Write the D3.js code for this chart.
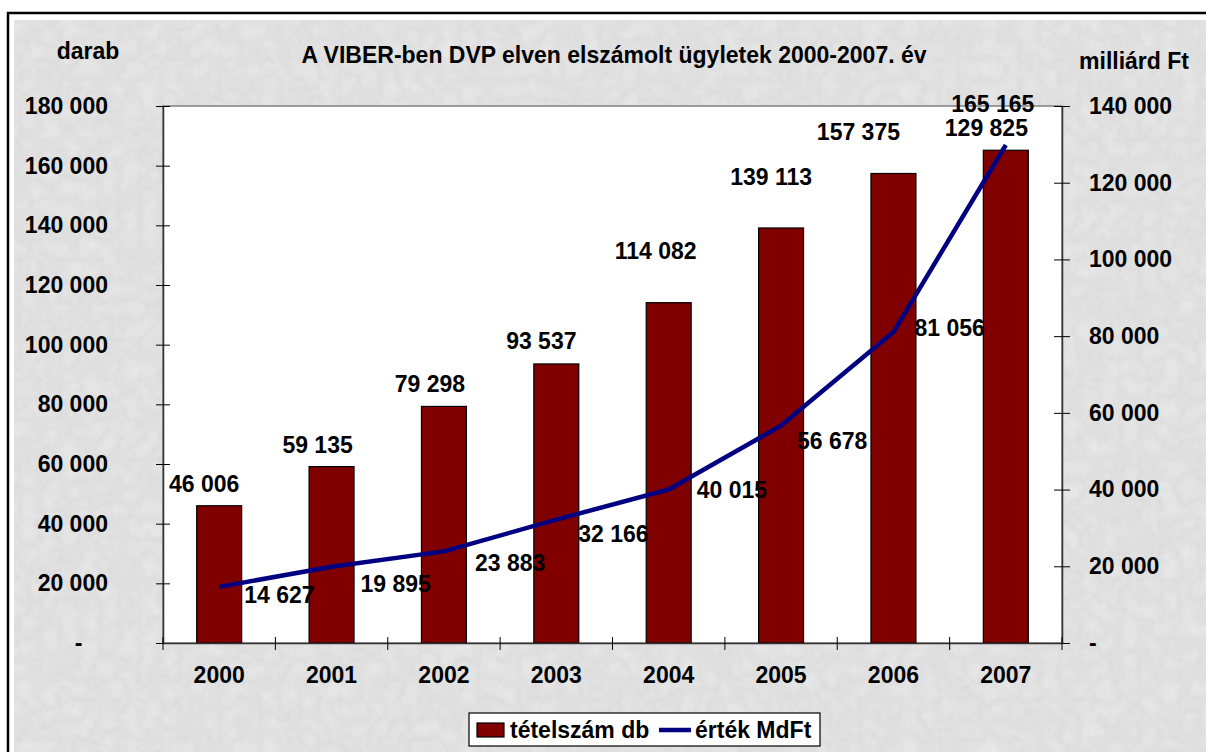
<!DOCTYPE html>
<html>
<head>
<meta charset="utf-8">
<script src="https://cdn.jsdelivr.net/npm/d3@7"></script>
<style>
	html, body { margin: 0; background: #fff; overflow: hidden; }
	svg { display: block; }
	svg text { font-family: "Liberation Sans", Arial, sans-serif; font-weight: bold; fill: #000; }
</style>
</head>
<body>
<div id="chart"></div>
<script>
const years = ["2000", "2001", "2002", "2003", "2004", "2005", "2006", "2007"];
const tetelszam = [46006, 59135, 79298, 93537, 114082, 139113, 157375, 165165];
const ertek = [14627, 19895, 23883, 32166, 40015, 56678, 81056, 129825];
const leftTicks = [0, 20000, 40000, 60000, 80000, 100000, 120000, 140000, 160000, 180000];
const rightTicks = [0, 20000, 40000, 60000, 80000, 100000, 120000, 140000];

// label nudges, as they were dragged in the original sheet
const barLabelNudge = [[-15, -14], [-14, -14], [-14, -14], [-15, -15], [-13, -44], [-10, -43], [-35, -33], [-13, -38]];
const lineLabelNudge = [[25, 16], [29, 25], [31, 20], [22, 22], [28, 8], [16, 23], [21, 4], [-61, -9]];

const W = 1206, H = 752;
const plot = { left: 163, top: 106, right: 1062, bottom: 643 };
const fs = 23;

const nf = d => d === 0 ? "-" : d3.format(",")(d).replace(/,/g, " ");

const svg = d3.select('#chart').append('svg')
	.attr('width', W)
	.attr('height', H);

const defs = svg.append('defs');

function noise(id, type, freq, oct, seed, matrix) {
	const f = defs.append('filter')
		.attr('id', id)
		.attr('filterUnits', 'userSpaceOnUse')
		.attr('x', 0).attr('y', 0).attr('width', W + 40).attr('height', H + 40);
	f.append('feTurbulence')
		.attr('type', type)
		.attr('baseFrequency', freq)
		.attr('numOctaves', oct)
		.attr('seed', seed);
	f.append('feColorMatrix')
		.attr('type', 'matrix')
		.attr('values', matrix);
	f.append('feComposite')
		.attr('in2', 'SourceGraphic')
		.attr('operator', 'in');
}

noise('veins', 'turbulence', 0.05, 4, 3, "0 0 0 0 1  0 0 0 0 1  0 0 0 0 1  1.3 0 0 0 -0.1");
noise('grain', 'fractalNoise', 0.14, 3, 9, "0 0 0 0 0.6  0 0 0 0 0.6  0 0 0 0 0.6  -1.2 0 0 0 0.7");

// paper + marble background
const bg = svg.append('g');
bg.append('rect')
	.attr('x', 14).attr('y', 20)
	.attr('width', W + 20).attr('height', H + 20)
	.attr('fill', '#dedede');
bg.append('rect')
	.attr('x', 14).attr('y', 20)
	.attr('width', W + 20).attr('height', H + 20)
	.attr('fill', '#fff')
	.attr('filter', 'url(#grain)')
	.attr('opacity', 0.3);
bg.append('rect')
	.attr('x', 14).attr('y', 20)
	.attr('width', W + 20).attr('height', H + 20)
	.attr('fill', '#fff')
	.attr('filter', 'url(#veins)')
	.attr('opacity', 0.3);

svg.append('path')
	.attr('d', `M8,${H + 5} V13 H${W + 5}`)
	.attr('fill', 'none')
	.attr('stroke', '#000')
	.attr('stroke-width', 2.5);

const x = d3.scaleBand()
	.domain(years)
	.range([plot.left, plot.right])
	.paddingInner(0.6)
	.paddingOuter(0.3);

const yL = d3.scaleLinear().domain([0, 180000]).range([plot.bottom, plot.top]);
const yR = d3.scaleLinear().domain([0, 140000]).range([plot.bottom, plot.top]);

svg.append('rect')
	.attr('x', plot.left).attr('y', plot.top)
	.attr('width', plot.right - plot.left)
	.attr('height', plot.bottom - plot.top)
	.attr('fill', '#fff')
	.attr('stroke', '#808080')
	.attr('stroke-width', 1.5);

// bars
svg.append('g')
	.selectAll('rect')
	.data(tetelszam)
	.enter().append('rect')
	.attr('x', (d, i) => x(years[i]))
	.attr('y', d => yL(d))
	.attr('width', x.bandwidth())
	.attr('height', d => yL(0) - yL(d))
	.attr('fill', '#800000')
	.attr('stroke', '#000')
	.attr('stroke-width', 1.2);

// axes
const axL = svg.append('g')
	.attr('transform', `translate(${plot.left},0)`)
	.call(d3.axisLeft(yL).tickValues(leftTicks).tickFormat(nf).tickSizeOuter(0));
axL.selectAll('.tick line').attr('x1', 7).attr('x2', -7).attr('stroke', '#000');
axL.selectAll('.tick text')
	.attr('x', -55)
	.style('font-size', fs + 'px')
	.text(d => d === 0 ? "-\u2007\u2007" : nf(d));

const axR = svg.append('g')
	.attr('transform', `translate(${plot.right},0)`)
	.call(d3.axisRight(yR).tickValues(rightTicks).tickFormat(nf).tickSizeOuter(0));
axR.selectAll('.tick line').attr('x1', -8).attr('x2', 8).attr('stroke', '#000');
axR.selectAll('.tick text')
	.attr('x', 27)
	.style('font-size', fs + 'px');

const axB = svg.append('g')
	.attr('transform', `translate(0,${plot.bottom})`)
	.call(d3.axisBottom(x).tickSize(0).tickPadding(24).tickSizeOuter(0));
axB.selectAll('.tick text').style('font-size', fs + 'px');

const bounds = d3.range(years.length + 1).map(i => plot.left + i * x.step());
axB.selectAll('line.bound')
	.data(bounds)
	.enter().append('line')
	.attr('class', 'bound')
	.attr('x1', d => d).attr('x2', d => d)
	.attr('y1', -6).attr('y2', 7)
	.attr('stroke', '#000');

svg.selectAll('.domain').attr('stroke', '#333').attr('stroke-width', 1.5);

// line
const cx = i => x(years[i]) + x.bandwidth() / 2;
const line = d3.line()
	.x((d, i) => cx(i))
	.y(d => yR(d));

svg.append('path')
	.datum(ertek)
	.attr('d', line)
	.attr('fill', 'none')
	.attr('stroke', '#000080')
	.attr('stroke-width', 4.5)
	.attr('stroke-linejoin', 'round');

// data labels
svg.append('g')
	.selectAll('text')
	.data(tetelszam)
	.enter().append('text')
	.attr('x', (d, i) => cx(i) + barLabelNudge[i][0])
	.attr('y', (d, i) => yL(d) + barLabelNudge[i][1])
	.attr('text-anchor', 'middle')
	.style('font-size', fs + 'px')
	.text(nf);

svg.append('g')
	.selectAll('text')
	.data(ertek)
	.enter().append('text')
	.attr('x', (d, i) => cx(i) + lineLabelNudge[i][0])
	.attr('y', (d, i) => yR(d) + lineLabelNudge[i][1])
	.style('font-size', fs + 'px')
	.text(nf);

// titles
svg.append('text')
	.attr('x', 614).attr('y', 63)
	.attr('text-anchor', 'middle')
	.style('font-size', fs + 'px')
	.text("A VIBER-ben DVP elven elszámolt ügyletek 2000-2007. év");

svg.append('text')
	.attr('x', 88).attr('y', 59)
	.attr('text-anchor', 'middle')
	.style('font-size', fs + 'px')
	.text("darab");

svg.append('text')
	.attr('x', 1134).attr('y', 69)
	.attr('text-anchor', 'middle')
	.style('font-size', fs + 'px')
	.text("milliárd Ft");

// legend
const lg = svg.append('g').attr('transform', 'translate(469,713)');
lg.append('rect')
	.attr('width', 351).attr('height', 33)
	.attr('fill', '#fff')
	.attr('stroke', '#000')
	.attr('stroke-width', 1.2);
lg.append('rect')
	.attr('x', 8).attr('y', 10)
	.attr('width', 27).attr('height', 14)
	.attr('fill', '#800000')
	.attr('stroke', '#000')
	.attr('stroke-width', 1.2);
lg.append('text')
	.attr('x', 41).attr('y', 25)
	.style('font-size', fs + 'px')
	.text("tételszám db");
lg.append('line')
	.attr('x1', 190).attr('x2', 222)
	.attr('y1', 17).attr('y2', 17)
	.attr('stroke', '#000080')
	.attr('stroke-width', 4.5);
lg.append('text')
	.attr('x', 226).attr('y', 25)
	.style('font-size', fs + 'px')
	.text("érték MdFt");
</script>
</body>
</html>
